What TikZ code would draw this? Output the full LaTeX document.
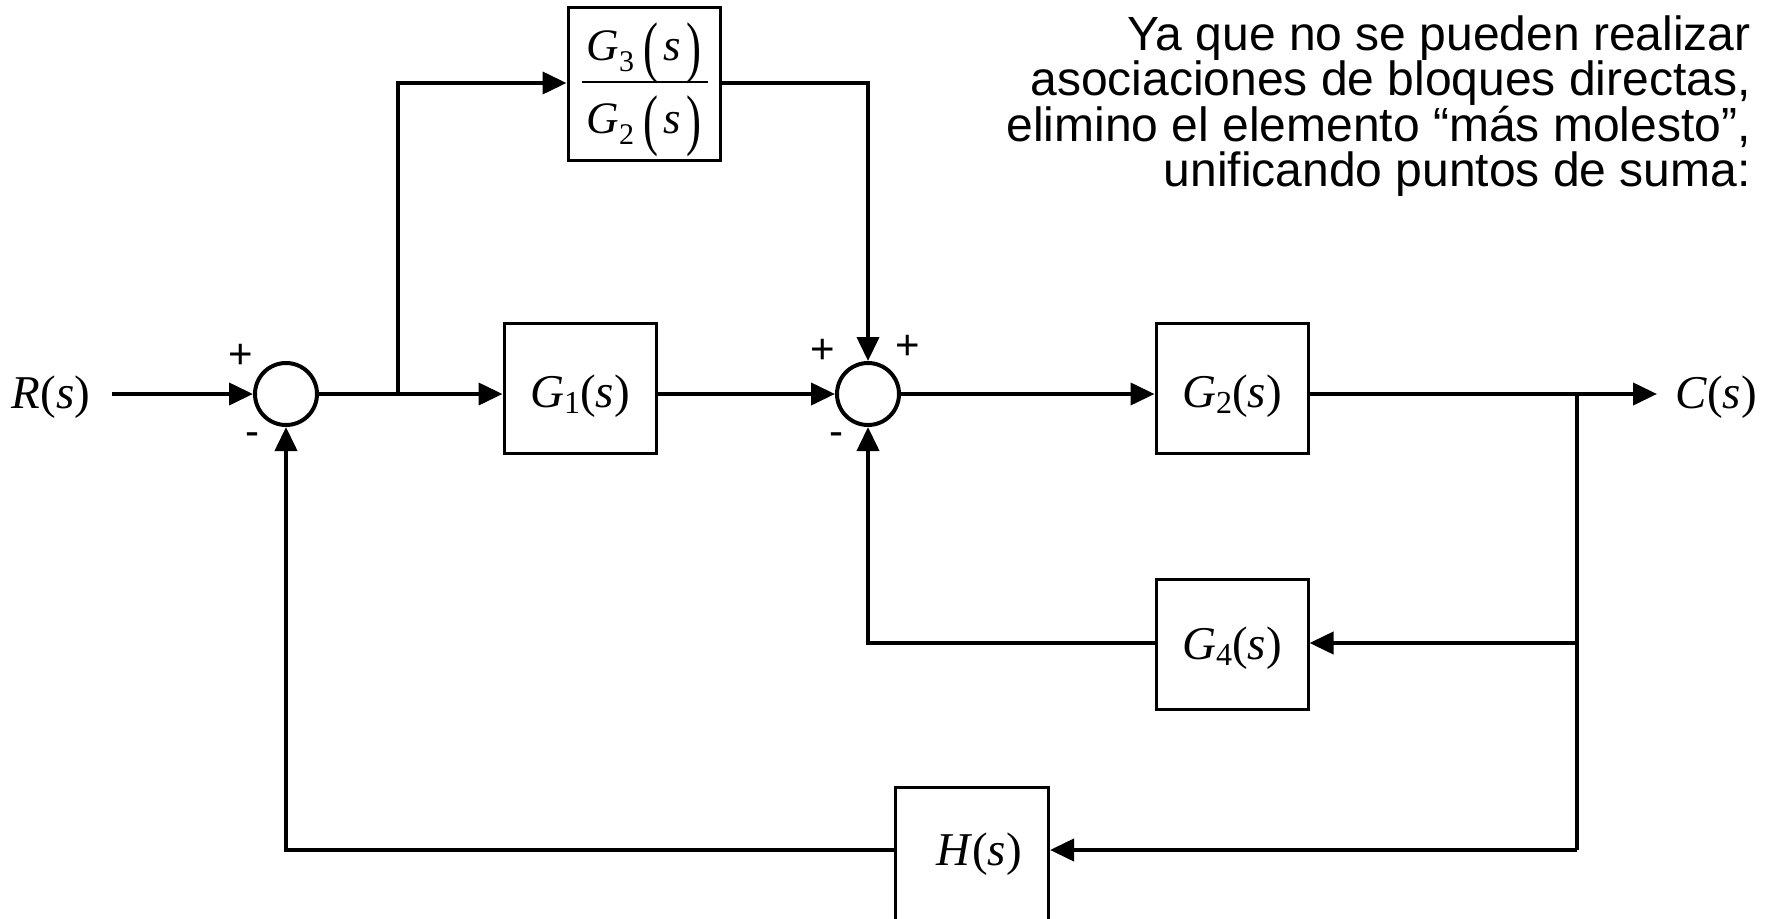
\documentclass[tikz,border=0pt]{standalone}
\usepackage{fontspec}
\setmainfont{Liberation Serif}
\newfontfamily\arialfont{Liberation Sans}
\usetikzlibrary{arrows.meta}
\newcommand\myit[1]{\textit{#1}}
\newcommand\gsub[1]{\raisebox{-6pt}{\fontsize{32}{32}\selectfont #1}}
\newcommand\fsub[1]{\raisebox{-11pt}{\fontsize{30}{30}\selectfont #1}}
\newcommand\tallp[1]{\raisebox{-0.2em}{\scalebox{1}[1.5]{#1}}}
\begin{document}
\begin{tikzpicture}[x=1pt,y=-1pt,
  wire/.style={line width=4pt},
  arr/.style={line width=4pt,-{Triangle[length=24pt,width=22pt]}},
  blk/.style={draw,line width=3pt,minimum width=152pt,minimum height=130pt,inner sep=0pt},
  sumj/.style={draw,line width=4pt,circle,minimum size=62pt,inner sep=0pt},
  sign/.style={font=\arialfont\fontsize{42}{42}\selectfont,inner sep=0pt},
  lbl/.style={font=\fontsize{47}{47}\selectfont,inner sep=0pt,anchor=base},
  frac/.style={font=\fontsize{45}{45}\selectfont,inner sep=0pt,anchor=base},
  txt/.style={font=\arialfont\fontsize{48}{48}\selectfont,inner sep=0pt,anchor=base east}]
\useasboundingbox (0,0) rectangle (1774,918);
\clip (0,0) rectangle (1774,918);
% nodes
\node[lbl] (r) at (51,408) {\myit{R}(\myit{s})};
\coordinate (rin) at (112,394);
\node[sumj] (s1) at (286,394) {};
\coordinate (b1) at (398,394);
\coordinate (b1t) at (398,83);
\node[blk,minimum width=152pt,minimum height=153pt] (g32) at (644,83.5) {};
\node[frac] (num) at (644,60) {\myit{G}\fsub{3}\hspace{0.2em}\tallp{(}\hspace{0.12em}\myit{s}\hspace{0.12em}\tallp{)}};
\node[frac] (den) at (644,133) {\myit{G}\fsub{2}\hspace{0.2em}\tallp{(}\hspace{0.12em}\myit{s}\hspace{0.12em}\tallp{)}};
\coordinate (barl) at (582,82);
\coordinate (barr) at (708,82);
\node[blk] (g1) at (580,388) {};
\node[lbl] (g1t) at (580,407) {\myit{G}\gsub{1}(\myit{s})};
\node[sumj] (s2) at (868,394) {};
\coordinate (s2t) at (868,83);
\node[blk] (g2) at (1232,388) {};
\node[lbl] (g2t) at (1232,407) {\myit{G}\gsub{2}(\myit{s})};
\coordinate (b2) at (1577,394);
\coordinate (cend) at (1657,394);
\node[lbl] (c) at (1716,408) {\myit{C}(\myit{s})};
\node[blk] (g4) at (1232,644) {};
\node[lbl] (g4t) at (1232,659) {\myit{G}\gsub{4}(\myit{s})};
\coordinate (b2g4) at (1577,643);
\coordinate (s2b) at (868,643);
\node[blk,minimum width=153pt,minimum height=170pt,anchor=north] (h) at (972,786) {};
\node[lbl] (ht) at (979,865) {\myit{H}(\myit{s})};
\coordinate (b2h) at (1577,850);
\coordinate (s1b) at (286,850);
% signs
\node[sign] (p1) at (241,356) {+};
\node[sign] (m1) at (252,439) {-};
\node[sign] (p2) at (823,351) {+};
\node[sign] (p3) at (908,347) {+};
\node[sign] (m2) at (836,439) {-};
% text
\node[txt] (t1) at (1751,50) {Ya que no se pueden realizar};
\node[txt] (t2) at (1751,95.5) {asociaciones de bloques directas,};
\node[txt] (t3) at (1751,141) {elimino el elemento “más molesto”,};
\node[txt] (t4) at (1751,186.5) {unificando puntos de suma:};
% wires
\draw[arr] (rin) -- (s1.west);
\draw[wire] (s1.east) -- (b1);
\draw[arr] (b1) -- (g1.west |- b1);
\draw[arr] (b1) -- (b1t) -- (g32.west |- b1t);
\draw[line width=2pt] (barl) -- (barr);
\draw[arr] (g32.east |- s2t) -- (s2t) -- (s2.north);
\draw[arr] (g1.east |- b1) -- (s2.west);
\draw[arr] (s2.east) -- (g2.west |- s2.east);
\draw[arr] (g2.east |- b2) -- (cend);
\draw[wire] (b2) -- (b2h);
\draw[arr] (b2g4) -- (g4.east |- b2g4);
\draw[arr] (g4.west |- s2b) -- (s2b) -- (s2.south);
\draw[arr] (b2h) -- (h.east |- b2h);
\draw[arr] (h.west |- b2h) -- (s1b) -- (s1.south);
\end{tikzpicture}
\end{document}
